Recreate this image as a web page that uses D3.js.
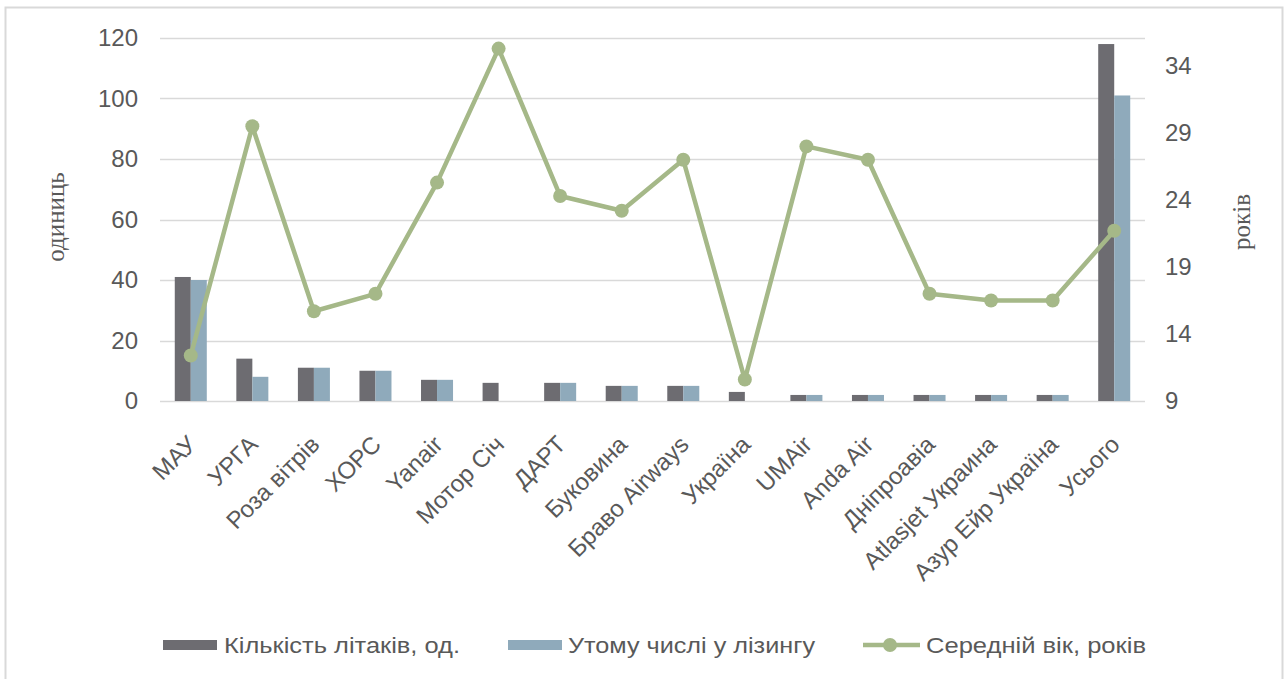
<!DOCTYPE html>
<html>
<head>
<meta charset="utf-8">
<script src="https://cdn.jsdelivr.net/npm/d3@7"></script>
<style>
  body { margin: 0; background: #fff; }
  text { font-family: "Liberation Sans", Arial, sans-serif; fill: #595959; }
</style>
</head>
<body>
<svg id="chart" width="1288" height="679"></svg>
<script>
var categories = ["МАУ", "УРГА", "Роза вітрів", "ХОРС", "Yanair", "Мотор Січ", "ДАРТ", "Буковина",
    "Браво Airways", "Україна", "UMAir", "Anda Air", "Дніпроавіа", "Atlasjet Украина", "Азур Ейр Україна", "Усього"];
var planes = [41, 14, 11, 10, 7, 6, 6, 5, 5, 3, 2, 2, 2, 2, 2, 118];
var leasing = [40, 8, 11, 10, 7, 0, 6, 5, 5, 0, 2, 2, 2, 2, 2, 101];
var avgAge = [12.4, 29.5, 15.7, 17.0, 25.3, 35.3, 24.3, 23.2, 27.0, 10.6, 28.0, 27.0, 17.0, 16.5, 16.5, 21.7];
var leftTicks = [0, 20, 40, 60, 80, 100, 120];
var rightTicks = [9, 14, 19, 24, 29, 34];
var seriesNames = ["Кількість літаків, од.", "Утому числі у лізингу", "Середній вік, років"];

var colors = {dark: "#6d6c71", blue: "#8faabb", green: "#a5b888", grid: "#d9d9d9"};

var svg = d3.select("#chart");

// outer frame
svg.append("rect")
    .attr("x", 5.5).attr("y", 7.5)
    .attr("width", 1277).attr("height", 700)
    .attr("fill", "none").attr("stroke", "#d9d9d9").attr("stroke-width", 2);

var plotL = 160, plotR = 1145, plotT = 38, plotB = 401;

var x = d3.scaleBand().domain(categories).range([plotL, plotR]).padding(0);
var groupW = x.bandwidth() * 0.52;
var x1 = d3.scaleBand().domain(["planes", "leasing"]).range([0, groupW]);

var y = d3.scaleLinear().domain([0, 120]).range([plotB, plotT]);
var y2 = d3.scaleLinear().domain([9, 9 + (plotB - plotT) / 13.4]).range([plotB, plotT]);

// gridlines
svg.append("g")
    .selectAll("line")
    .data(leftTicks)
    .enter().append("line")
    .attr("x1", plotL).attr("x2", plotR)
    .attr("y1", function(d) { return Math.round(y(d)) + 0.5; })
    .attr("y2", function(d) { return Math.round(y(d)) + 0.5; })
    .attr("stroke", colors.grid).attr("stroke-width", 1.5);

// left axis
var yAxis = svg.append("g")
    .attr("transform", "translate(" + plotL + ",0)")
    .call(d3.axisLeft(y).tickValues(leftTicks).tickSize(0).tickPadding(22));
yAxis.select(".domain").remove();
yAxis.selectAll("text").style("font-size", "24px").attr("fill", "#595959");

// right axis
var y2Axis = svg.append("g")
    .attr("transform", "translate(" + plotR + ",0)")
    .call(d3.axisRight(y2).tickValues(rightTicks).tickSize(0).tickPadding(20));
y2Axis.select(".domain").remove();
y2Axis.selectAll("text").style("font-size", "24px").attr("fill", "#595959");

// bars
var barData = categories.map(function(c, i) {
    return {cat: c, values: [{key: "planes", v: planes[i]}, {key: "leasing", v: leasing[i]}]};
});
var groups = svg.append("g").selectAll("g")
    .data(barData)
    .enter().append("g")
    .attr("transform", function(d) {
        return "translate(" + (x(d.cat) + (x.bandwidth() - groupW) / 2) + ",0)";
    });
groups.selectAll("rect")
    .data(function(d) { return d.values; })
    .enter().append("rect")
    .attr("x", function(d) { return x1(d.key); })
    .attr("width", x1.bandwidth())
    .attr("y", function(d) { return y(d.v); })
    .attr("height", function(d) { return plotB - y(d.v); })
    .attr("fill", function(d) { return d.key == "planes" ? colors.dark : colors.blue; });

// age line
var line = d3.line()
    .x(function(d, i) { return x(categories[i]) + x.bandwidth() / 2; })
    .y(function(d) { return y2(d); });
svg.append("path")
    .datum(avgAge)
    .attr("d", line)
    .attr("fill", "none")
    .attr("stroke", colors.green)
    .attr("stroke-width", 4.5)
    .attr("stroke-linejoin", "round");
svg.append("g").selectAll("circle")
    .data(avgAge)
    .enter().append("circle")
    .attr("cx", function(d, i) { return x(categories[i]) + x.bandwidth() / 2; })
    .attr("cy", function(d) { return y2(d); })
    .attr("r", 7)
    .attr("fill", colors.green);

// category labels
svg.append("g").selectAll("text")
    .data(categories)
    .enter().append("text")
    .attr("transform", function(d) {
        return "translate(" + (x(d) + x.bandwidth() / 2 + 7) + ",446) rotate(-45)";
    })
    .attr("text-anchor", "end")
    .style("font-size", "24px")
    .text(function(d) { return d; });

// axis titles
svg.append("text")
    .attr("transform", "translate(64,217) rotate(-90)")
    .attr("text-anchor", "middle")
    .style("font-family", "'Liberation Serif', 'Times New Roman', serif")
    .style("font-size", "25px")
    .text("одиниць");
svg.append("text")
    .attr("transform", "translate(1250,222) rotate(-90)")
    .attr("text-anchor", "middle")
    .style("font-family", "'Liberation Serif', 'Times New Roman', serif")
    .style("font-size", "25px")
    .text("років");

// legend
var legend = svg.append("g");
var legY = 645;
legend.append("rect").attr("x", 163).attr("y", legY - 5).attr("width", 54).attr("height", 10).attr("fill", colors.dark);
legend.append("text").attr("x", 224).attr("y", legY).attr("dy", "0.35em")
    .attr("textLength", 236).attr("lengthAdjust", "spacingAndGlyphs")
    .style("font-size", "22px").text(seriesNames[0]);
legend.append("rect").attr("x", 508).attr("y", legY - 5).attr("width", 54).attr("height", 10).attr("fill", colors.blue);
legend.append("text").attr("x", 568).attr("y", legY).attr("dy", "0.35em")
    .attr("textLength", 247).attr("lengthAdjust", "spacingAndGlyphs")
    .style("font-size", "22px").text(seriesNames[1]);
legend.append("line").attr("x1", 863).attr("x2", 920).attr("y1", legY).attr("y2", legY)
    .attr("stroke", colors.green).attr("stroke-width", 4.5);
legend.append("circle").attr("cx", 890).attr("cy", legY).attr("r", 7).attr("fill", colors.green);
legend.append("text").attr("x", 926).attr("y", legY).attr("dy", "0.35em")
    .attr("textLength", 220).attr("lengthAdjust", "spacingAndGlyphs")
    .style("font-size", "22px").text(seriesNames[2]);
</script>
</body>
</html>
